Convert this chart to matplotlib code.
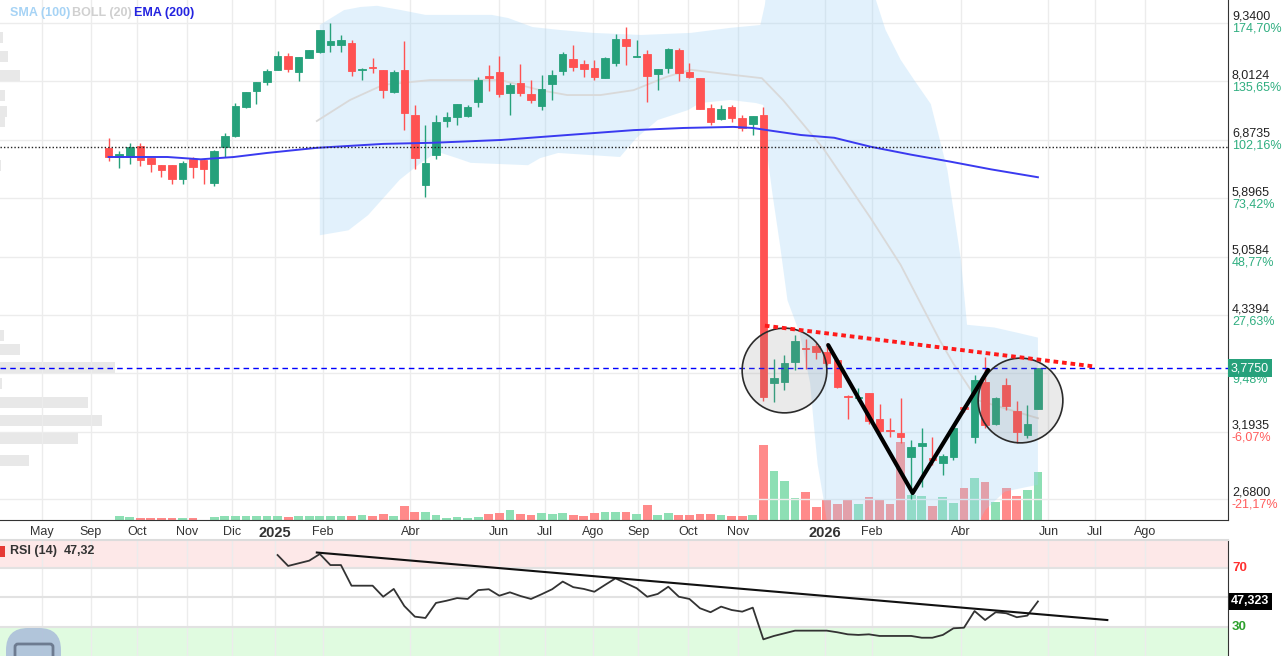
import numpy as np
import pandas as pd
import matplotlib
matplotlib.use('Agg')
import matplotlib.pyplot as plt
import matplotlib.dates as mdates
from matplotlib.patches import Rectangle, FancyBboxPatch
from matplotlib.ticker import NullLocator
from matplotlib.transforms import IdentityTransform

plt.rcParams['font.family'] = ['Liberation Sans', 'DejaVu Sans']

# ---- weekly candles ----
first_week = '2024-09-13'
opens = [6.73, 6.57, 6.57, 6.77, 6.55, 6.43, 6.43, 6.20, 6.53, 6.52,
         6.14, 6.75, 6.95, 7.49, 7.81, 8.00, 8.25, 8.56, 8.21, 8.52,
         8.65, 8.81, 8.81, 8.86, 8.25, 8.32, 8.25, 7.79, 8.25, 7.34,
         6.11, 6.60, 7.22, 7.30, 7.32, 7.59, 8.12, 8.21, 7.77, 7.98,
         7.75, 7.51, 7.96, 8.23, 8.50, 8.39, 8.30, 8.08, 8.41, 8.96,
         8.55, 8.61, 8.17, 8.30, 8.70, 8.21, 8.08, 7.47, 7.26, 7.49,
         7.28, 7.16, 7.34, 3.63, 3.64, 3.84, 3.98, 4.00, 3.94, 3.86,
         3.51, 3.49, 3.54, 3.30, 3.21, 3.18, 2.99, 3.08, 2.98, 2.94,
         2.99, 3.41, 3.15, 3.64, 3.26, 3.61, 3.37, 3.17, 3.39]
highs = [6.91, 6.68, 6.82, 6.82, 6.56, 6.44, 6.44, 6.50, 6.57, 6.53,
         6.69, 7.00, 7.57, 7.80, 8.00, 8.28, 8.68, 8.63, 8.54, 8.70,
         9.17, 9.34, 9.05, 8.93, 8.30, 8.52, 8.26, 8.25, 8.91, 7.53,
         7.14, 7.34, 7.40, 7.55, 7.53, 8.10, 8.37, 8.56, 7.98, 8.39,
         8.04, 8.14, 8.25, 8.65, 8.81, 8.48, 8.48, 8.54, 9.07, 9.24,
         8.93, 8.70, 8.28, 8.75, 8.75, 8.41, 8.08, 7.55, 7.53, 7.53,
         7.34, 7.32, 7.49, 3.87, 3.91, 4.12, 4.08, 4.03, 4.03, 3.88,
         3.52, 3.58, 3.54, 3.44, 3.31, 3.49, 3.13, 3.23, 3.15, 3.01,
         3.24, 3.43, 3.71, 3.89, 3.50, 3.68, 3.46, 3.43, 3.775]
lows = [6.50, 6.38, 6.45, 6.41, 6.31, 6.23, 6.12, 6.12, 6.22, 6.12,
        6.09, 6.57, 6.93, 7.48, 7.55, 7.94, 8.25, 8.21, 8.02, 8.52,
        8.63, 8.65, 8.65, 8.12, 8.04, 8.19, 7.67, 7.77, 7.05, 6.36,
        5.92, 6.53, 7.11, 7.14, 7.30, 7.49, 7.81, 7.69, 7.34, 7.71,
        7.57, 7.43, 7.63, 8.14, 8.23, 8.10, 8.04, 8.08, 8.34, 8.37,
        8.54, 7.59, 7.83, 8.19, 8.02, 8.08, 7.45, 7.14, 7.24, 7.20,
        7.03, 6.96, 3.46, 3.45, 3.56, 3.76, 3.77, 3.87, 3.81, 3.58,
        3.30, 3.46, 3.26, 3.17, 3.15, 3.10, 2.68, 2.76, 2.93, 2.85,
        2.97, 3.36, 3.10, 3.23, 3.25, 3.38, 3.10, 3.14, 3.39]
closes = [6.57, 6.62, 6.75, 6.51, 6.45, 6.35, 6.20, 6.47, 6.40, 6.36,
          6.67, 6.95, 7.51, 7.79, 7.99, 8.23, 8.56, 8.28, 8.54, 8.70,
          9.17, 8.91, 8.93, 8.23, 8.27, 8.29, 7.83, 8.21, 7.38, 6.55,
          6.47, 7.20, 7.30, 7.55, 7.49, 8.04, 8.08, 7.75, 7.94, 7.77,
          7.63, 7.85, 8.14, 8.61, 8.32, 8.28, 8.10, 8.52, 8.96, 8.79,
          8.57, 8.12, 8.28, 8.72, 8.19, 8.10, 7.45, 7.20, 7.45, 7.28,
          7.09, 7.32, 3.50, 3.68, 3.83, 4.05, 3.97, 3.94, 3.83, 3.59,
          3.50, 3.50, 3.29, 3.20, 3.20, 3.15, 3.07, 3.10, 2.97, 3.00,
          3.23, 3.39, 3.66, 3.25, 3.49, 3.42, 3.19, 3.26, 3.775]
volume = [0.0, 0.4, 0.3, 0.2, 0.2, 0.2, 0.2, 0.2, 0.2, 0.05,
          0.3, 0.4, 0.4, 0.4, 0.4, 0.4, 0.4, 0.3, 0.4, 0.4,
          0.4, 0.4, 0.4, 0.4, 0.5, 0.4, 0.65, 0.4, 1.45, 0.85,
          0.85, 0.55, 0.2, 0.3, 0.2, 0.3, 0.65, 0.75, 1.0, 0.65,
          0.55, 0.75, 0.65, 0.75, 0.55, 0.4, 0.75, 0.85, 0.85, 0.85,
          0.65, 1.55, 0.55, 0.75, 0.55, 0.55, 0.65, 0.65, 0.55, 0.4,
          0.4, 0.55, 7.5, 4.9, 3.9, 2.2, 2.8, 1.3, 2.1, 1.6,
          2.0, 1.6, 2.3, 2.1, 1.6, 7.8, 2.5, 2.4, 1.4, 2.3,
          1.7, 3.2, 4.2, 3.8, 1.8, 3.2, 2.4, 3.0, 4.8]

# RSI (14), from the first plotted week to the last
rsi = [78.8, 71.4, 73.2, 75.0, 79.5, 72.0, 72.0, 58.0, 58.0, 58.0,
       50.5, 55.8, 44.2, 37.0, 36.1, 46.3, 47.8, 49.6, 49.0, 55.0,
       55.6, 51.2, 53.5, 51.0, 49.0, 52.2, 55.6, 60.8, 57.0, 55.8,
       53.9, 58.5, 63.0, 59.6, 56.3, 50.5, 52.4, 57.3, 50.5, 49.0,
       42.7, 40.0, 43.8, 41.5, 40.4, 43.1, 21.6, 23.9, 25.7, 27.5,
       27.5, 27.5, 27.5, 26.4, 25.0, 24.6, 25.0, 23.9, 23.9, 23.9,
       23.9, 22.7, 22.7, 24.6, 29.1, 29.5, 40.8, 34.7, 40.0, 39.3,
       36.6, 37.7, 47.32]

# ---- overlays ----
ema_dates = ['2024-09-13', '2024-10-22', '2024-11-13', '2024-12-05', '2024-12-27',
             '2025-01-29', '2025-03-14', '2025-04-16', '2025-05-31', '2025-07-14',
             '2025-08-27', '2025-09-29', '2025-11-01', '2025-11-14', '2025-11-26',
             '2025-12-16', '2026-01-07', '2026-01-31', '2026-02-27', '2026-03-25',
             '2026-04-21', '2026-05-22']
ema_vals = [6.57, 6.57, 6.53, 6.57, 6.64, 6.73, 6.80, 6.82, 6.87, 6.96,
            7.05, 7.09, 7.11, 7.09, 7.04, 6.96, 6.91, 6.75, 6.61, 6.49, 6.36, 6.23]

boll_up_dates = ['2025-01-31', '2025-02-16', '2025-02-27', '2025-03-10', '2025-03-26',
                 '2025-04-11', '2025-05-25', '2025-06-05', '2025-06-21', '2025-07-09',
                 '2025-07-31', '2025-09-01', '2025-10-04', '2025-10-30', '2025-11-19',
                 '2025-11-22', '2025-11-24', '2026-01-30', '2026-02-10', '2026-02-20',
                 '2026-03-01', '2026-03-12', '2026-03-18', '2026-03-23', '2026-03-27',
                 '2026-04-01', '2026-04-05', '2026-04-23', '2026-05-09', '2026-05-22']
boll_up = [9.29, 9.66, 9.74, 9.77, 9.66, 9.54, 9.54, 9.46, 9.24, 9.17,
           9.10, 9.05, 9.10, 9.22, 9.29, 9.79, 10.5, 10.5, 9.17, 8.48,
           8.04, 7.55, 6.87, 6.35, 5.72, 5.01, 4.23, 4.20, 4.14, 4.09]
boll_lo_dates = ['2025-01-31', '2025-02-19', '2025-03-04', '2025-03-25', '2025-04-08',
                 '2025-04-19', '2025-05-02', '2025-05-11', '2025-06-18', '2025-06-26',
                 '2025-07-08', '2025-08-18', '2025-08-29', '2025-09-12', '2025-10-02',
                 '2025-10-10', '2025-10-30', '2025-11-16', '2025-11-21', '2025-11-22',
                 '2025-11-27', '2025-12-02', '2025-12-07', '2025-12-15', '2025-12-22',
                 '2025-12-25', '2025-12-27', '2025-12-31', '2026-01-02', '2026-01-08',
                 '2026-04-04', '2026-04-17', '2026-04-30', '2026-05-22']
boll_lo = [5.35, 5.42, 5.64, 6.19, 6.47, 6.66, 6.55, 6.47, 6.43, 6.55,
           6.64, 6.57, 6.91, 7.24, 7.43, 7.57, 7.63, 7.57, 7.53, 6.94,
           5.97, 5.22, 4.51, 4.14, 3.63, 3.18, 2.93, 2.67, 2.53, 2.35,
           2.35, 2.60, 2.73, 2.78]
boll_mid_dates = ['2025-01-29', '2025-02-20', '2025-03-14', '2025-04-14', '2025-05-31',
                  '2025-06-26', '2025-07-14', '2025-08-05', '2025-08-27', '2025-09-18',
                  '2025-10-04', '2025-11-01', '2025-11-20', '2025-12-04', '2025-12-31',
                  '2026-01-31', '2026-02-20', '2026-03-18', '2026-03-27', '2026-04-12',
                  '2026-05-22']
boll_mid = [7.22, 7.63, 7.94, 8.04, 8.04, 7.83, 7.73, 7.73, 7.83, 8.11,
            8.26, 8.15, 8.08, 7.63, 6.71, 5.60, 4.95, 4.06, 3.82, 3.47, 3.31]

# volume at price (left edge)
profile_prices = [8.99, 8.56, 8.13, 7.73, 7.40, 7.21, 6.43, 4.11, 3.96, 3.785, 3.63, 3.45, 3.29, 3.14, 2.96]
profile_vol = [3, 8, 20, 5, 7, 5, 1, 4, 20, 115, 2, 88, 102, 78, 29]

# drawings
trend_dates = ['2025-11-22', '2026-06-29']
trend_vals = [4.22, 3.79]
v_dates = ['2026-01-03', '2026-02-28', '2026-04-19']
v_vals = [4.01, 2.72, 3.757]
circle_dates = ['2025-12-05', '2026-05-10']
circle_vals = [3.757, 3.476]
rsi_trend_dates = ['2025-01-29', '2026-07-07']
rsi_trend_vals = [80.5, 34.7]

last_price = 3.775
ref_level = 6.75

axis_prices = [9.34, 8.0124, 6.8735, 5.8965, 5.0584, 4.3394, 3.7226, 3.1935, 2.68]
axis_pct = ['174,70%', '135,65%', '102,16%', '73,42%', '48,77%', '27,63%', '9,48%', '-6,07%', '-21,17%']

tick_dates = ['2024-07-31', '2024-09-01', '2024-10-02', '2024-11-04', '2024-12-04',
              '2025-01-01', '2025-02-02', '2025-04-01', '2025-05-30', '2025-06-29',
              '2025-07-31', '2025-08-30', '2025-10-02', '2025-11-04', '2026-01-01',
              '2026-02-01', '2026-04-01', '2026-05-29', '2026-06-29', '2026-08-01']
tick_labels = ['May', 'Sep', 'Oct', 'Nov', 'Dic', '2025', 'Feb', 'Abr', 'Jun', 'Jul',
               'Ago', 'Sep', 'Oct', 'Nov', '2026', 'Feb', 'Abr', 'Jun', 'Jul', 'Ago']

GREEN = '#26a17b'
RED = '#ff5252'


def num(d):
    return mdates.date2num(pd.to_datetime(d))


W, H = 1284, 656
fig = plt.figure(figsize=(W / 100, H / 100), dpi=100)
fig.patch.set_facecolor('white')

main_rect = [0, 1 - 520 / H, 1228 / W, 520 / H]
rsi_rect = [0, 0, 1228 / W, 116 / H]

ax_prof = fig.add_axes(main_rect, zorder=0)
ax_vol = fig.add_axes(main_rect, zorder=1)
ax = fig.add_axes(main_rect, zorder=2)
ax_rsi = fig.add_axes(rsi_rect)

x0, x1 = num('2024-07-03'), num('2026-09-25')
ylo, yhi = 2.534, 9.92

dates = mdates.date2num(pd.date_range(first_week, periods=len(closes), freq='7D'))
o = np.array(opens); c = np.array(closes)
up = c >= o
colors = np.where(up, GREEN, RED)
vcolors = np.where(up, '#8ddfb4', '#ff8a8a')
ticks = num(tick_dates)

# volume profile
ax_prof.set_yscale('log')
ax_prof.set_ylim(ylo, yhi)
ax_prof.set_xlim(0, 1228)
pp = np.array(profile_prices)
ax_prof.barh(pp / 1.0145, profile_vol, height=pp * 1.0145 - pp / 1.0145, left=0,
             align='edge', color='#e8e8e8', lw=0)
ax_prof.axis('off')

# volume + vertical grid
ax_vol.set_xlim(x0, x1)
ax_vol.set_ylim(0, 52)
for t in ticks:
    ax_vol.axvline(t, color='#ececec', lw=1, zorder=0)
ax_vol.bar(dates, volume, width=5.8, color=vcolors, lw=0, zorder=2)
ax_vol.axis('off')

# main price pane
ax.patch.set_visible(False)
ax.set_yscale('log')
ax.set_xlim(x0, x1)
ax.set_ylim(ylo, yhi)
ax.yaxis.set_major_locator(NullLocator())
ax.yaxis.set_minor_locator(NullLocator())
for p in axis_prices:
    ax.axhline(p, color='#ececec', lw=1, zorder=0.5)

band_x = np.r_[num(boll_up_dates), num(boll_lo_dates)[::-1]]
band_y = np.r_[boll_up, boll_lo[::-1]]
ax.fill(band_x, band_y, color='#9fd3f7', alpha=0.3, lw=0, zorder=1)
ax.plot(num(boll_mid_dates), boll_mid, color='#d9d9d9', lw=1.3, zorder=2)

ax.vlines(dates, lows, highs, colors=colors, lw=1, zorder=3)
ax.bar(dates, np.abs(c - o), bottom=np.minimum(o, c), width=5.0, color=colors,
       edgecolor=colors, lw=0.6, zorder=4)

ax.plot(num(ema_dates), ema_vals, color='#3a3af0', lw=1.4, zorder=5)
ax.axhline(ref_level, color='#222222', lw=1, ls=(0, (1, 1.5)), zorder=5)
ax.axhline(last_price, color='#0000ff', lw=1, ls=(0, (4, 3)), zorder=6)

ax.plot(num(circle_dates), circle_vals, 'o', ms=61, mfc=(0.55, 0.55, 0.55, 0.18),
        mec='#2b2b2b', mew=1.2, zorder=7)
ax.plot(num(v_dates), v_vals, color='black', lw=3, solid_capstyle='round', zorder=8)
ax.plot(num(trend_dates), trend_vals, color='#ff1a1a', lw=2.8, ls=(0, (1.2, 1.0)), zorder=8)

for s in ['top', 'left']:
    ax.spines[s].set_visible(False)
for s in ['bottom', 'right']:
    ax.spines[s].set_color('#333333')
ax.set_xticks(ticks)
ax.set_xticklabels(tick_labels)
ax.tick_params(axis='x', length=0, pad=4, labelsize=9, colors='#333333')
for lab in ax.get_xticklabels():
    if lab.get_text() in ('2025', '2026'):
        lab.set_fontweight('bold')
        lab.set_fontsize(10.5)

# right scale labels
for p, pct in zip(axis_prices, axis_pct):
    ax.annotate(f'{p:.4f}'.replace('.', ','), xy=(1, p), xycoords=('axes fraction', 'data'),
                xytext=(4, 6), textcoords='offset pixels', va='center', ha='left',
                fontsize=9, color='#222222', annotation_clip=False)
    ax.annotate(pct, xy=(1, p), xycoords=('axes fraction', 'data'),
                xytext=(4, -6), textcoords='offset pixels', va='center', ha='left',
                fontsize=9, color=('#ff5c5c' if pct.startswith('-') else '#2fae80'),
                annotation_clip=False)
ax.annotate(f'{last_price:.4f}'.replace('.', ','), xy=(1, last_price),
            xycoords=('axes fraction', 'data'), xytext=(3, 0), textcoords='offset pixels',
            va='center', ha='left', fontsize=9, color='white', annotation_clip=False,
            bbox=dict(boxstyle='square,pad=0.22', fc=GREEN, ec='none'), zorder=20)

fig.text(10 / W, 1 - 13 / H, 'SMA (100)', color='#a6d3f5', fontsize=9, fontweight='bold', va='center')
fig.text(72 / W, 1 - 13 / H, 'BOLL (20)', color='#d0d0d0', fontsize=9, fontweight='bold', va='center')
fig.text(134 / W, 1 - 13 / H, 'EMA (200)', color='#2323e0', fontsize=9, fontweight='bold', va='center')

# RSI pane
ax_rsi.set_xlim(x0, x1)
ax_rsi.set_ylim(10.3, 89)
ax_rsi.axhspan(70, 89, color='#fde8e8', lw=0, zorder=0)
ax_rsi.axhspan(10.3, 30, color='#e0fbe0', lw=0, zorder=0)
for t in ticks:
    ax_rsi.axvline(t, color='#ececec', lw=1, zorder=0.5)
for lv in (30, 50, 70):
    ax_rsi.axhline(lv, color='#e2e2e2', lw=1.5, zorder=0.6)
ax_rsi.plot(dates[len(dates) - len(rsi):], rsi, color='#333333', lw=1.3, zorder=3)
ax_rsi.plot(num(rsi_trend_dates), rsi_trend_vals, color='#111111', lw=1.5, zorder=4)
ax_rsi.set_xticks([]); ax_rsi.set_yticks([])
for s in ['left', 'bottom']:
    ax_rsi.spines[s].set_visible(False)
ax_rsi.spines['right'].set_color('#333333')
ax_rsi.spines['top'].set_color('#dcdcdc')
ax_rsi.spines['top'].set_linewidth(1.5)
ax_rsi.annotate('70', xy=(1, 70), xycoords=('axes fraction', 'data'), xytext=(4, 0),
                textcoords='offset pixels', va='center', fontsize=9.5, fontweight='bold',
                color='#ff3030', annotation_clip=False)
ax_rsi.annotate('30', xy=(1, 30), xycoords=('axes fraction', 'data'), xytext=(4, 0),
                textcoords='offset pixels', va='center', fontsize=9.5, fontweight='bold',
                color='#2ca02c', annotation_clip=False)
ax_rsi.annotate(f'{rsi[-1]:.3f}'.replace('.', ',').replace(',320', ',323'), xy=(1, rsi[-1]),
                xycoords=('axes fraction', 'data'), xytext=(3, 0), textcoords='offset pixels',
                va='center', fontsize=9, fontweight='bold', color='white', annotation_clip=False,
                bbox=dict(boxstyle='square,pad=0.2', fc='black', ec='none'))

fig.add_artist(Rectangle((0, 1 - 557 / H), 5 / W, 11 / H, transform=fig.transFigure,
                         color='#e53935', lw=0))
fig.text(10 / W, 1 - 551 / H, 'RSI (14)', fontsize=9, color='#333333', va='center', fontweight='bold')
fig.text(64 / W, 1 - 551 / H, f'{rsi[-1]:.2f}'.replace('.', ','), fontsize=9, color='#333333',
         va='center', fontweight='bold')

# floating button, cut by the bottom edge
fig.add_artist(FancyBboxPatch((6, -40), 55, 68, boxstyle='round,pad=0,rounding_size=22',
                              transform=IdentityTransform(), fc='#a9bcd9', ec='none', alpha=0.85))
fig.add_artist(FancyBboxPatch((15, -10), 38, 22, boxstyle='round,pad=0,rounding_size=3',
                              transform=IdentityTransform(), fc='none', ec='#6d7b90', lw=2))

fig.savefig('out.png', dpi=100)
